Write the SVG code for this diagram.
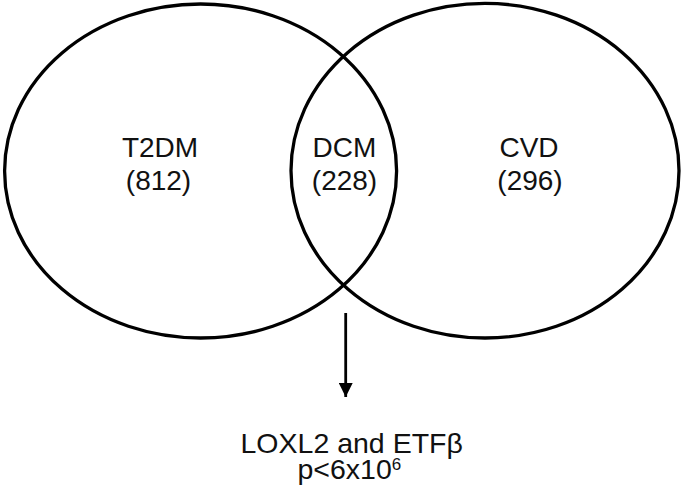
<svg xmlns="http://www.w3.org/2000/svg" width="685" height="489" viewBox="0 0 685 489">
<defs>
<style>
.set{fill:none;stroke:#000;stroke-width:3.3}
.lbl{font-family:"Liberation Sans",Arial,sans-serif;font-size:28px;fill:#111;text-anchor:middle}
.res{font-family:"Liberation Sans",Arial,sans-serif;font-size:28.5px;fill:#111}
.conn{stroke:#000;stroke-width:2.8;fill:none}
</style>
<marker id="ah" viewBox="0 0 10 10" refX="10" refY="5" markerWidth="5" markerHeight="5" markerUnits="strokeWidth" orient="auto">
<path d="M0,0 L10,5 L0,10 z" fill="#000"/>
</marker>
</defs>
<rect width="685" height="489" fill="#fff"/>
<g id="T2DM">
<ellipse class="set" cx="200.6" cy="171" rx="196" ry="167"/>
<text class="lbl" x="160" y="157">T2DM</text>
<text class="lbl" x="158.5" y="190">(812)</text>
</g>
<g id="CVD">
<ellipse class="set" cx="485" cy="170.7" rx="194" ry="167.3"/>
<text class="lbl" x="529" y="157">CVD</text>
<text class="lbl" x="530" y="190">(296)</text>
</g>
<g id="DCM">
<text class="lbl" x="344.5" y="157">DCM</text>
<text class="lbl" x="344.5" y="190">(228)</text>
</g>
<g id="connectors">
<line class="conn" x1="345.7" y1="313" x2="345.7" y2="397" marker-end="url(#ah)"/>
</g>
<g id="result">
<text class="res" x="351.7" y="453" text-anchor="middle">LOXL2 and ETFβ</text>
<text class="res" x="297.5" y="479">p&lt;6x10<tspan font-size="17" dy="-9">6</tspan></text>
</g>
</svg>
